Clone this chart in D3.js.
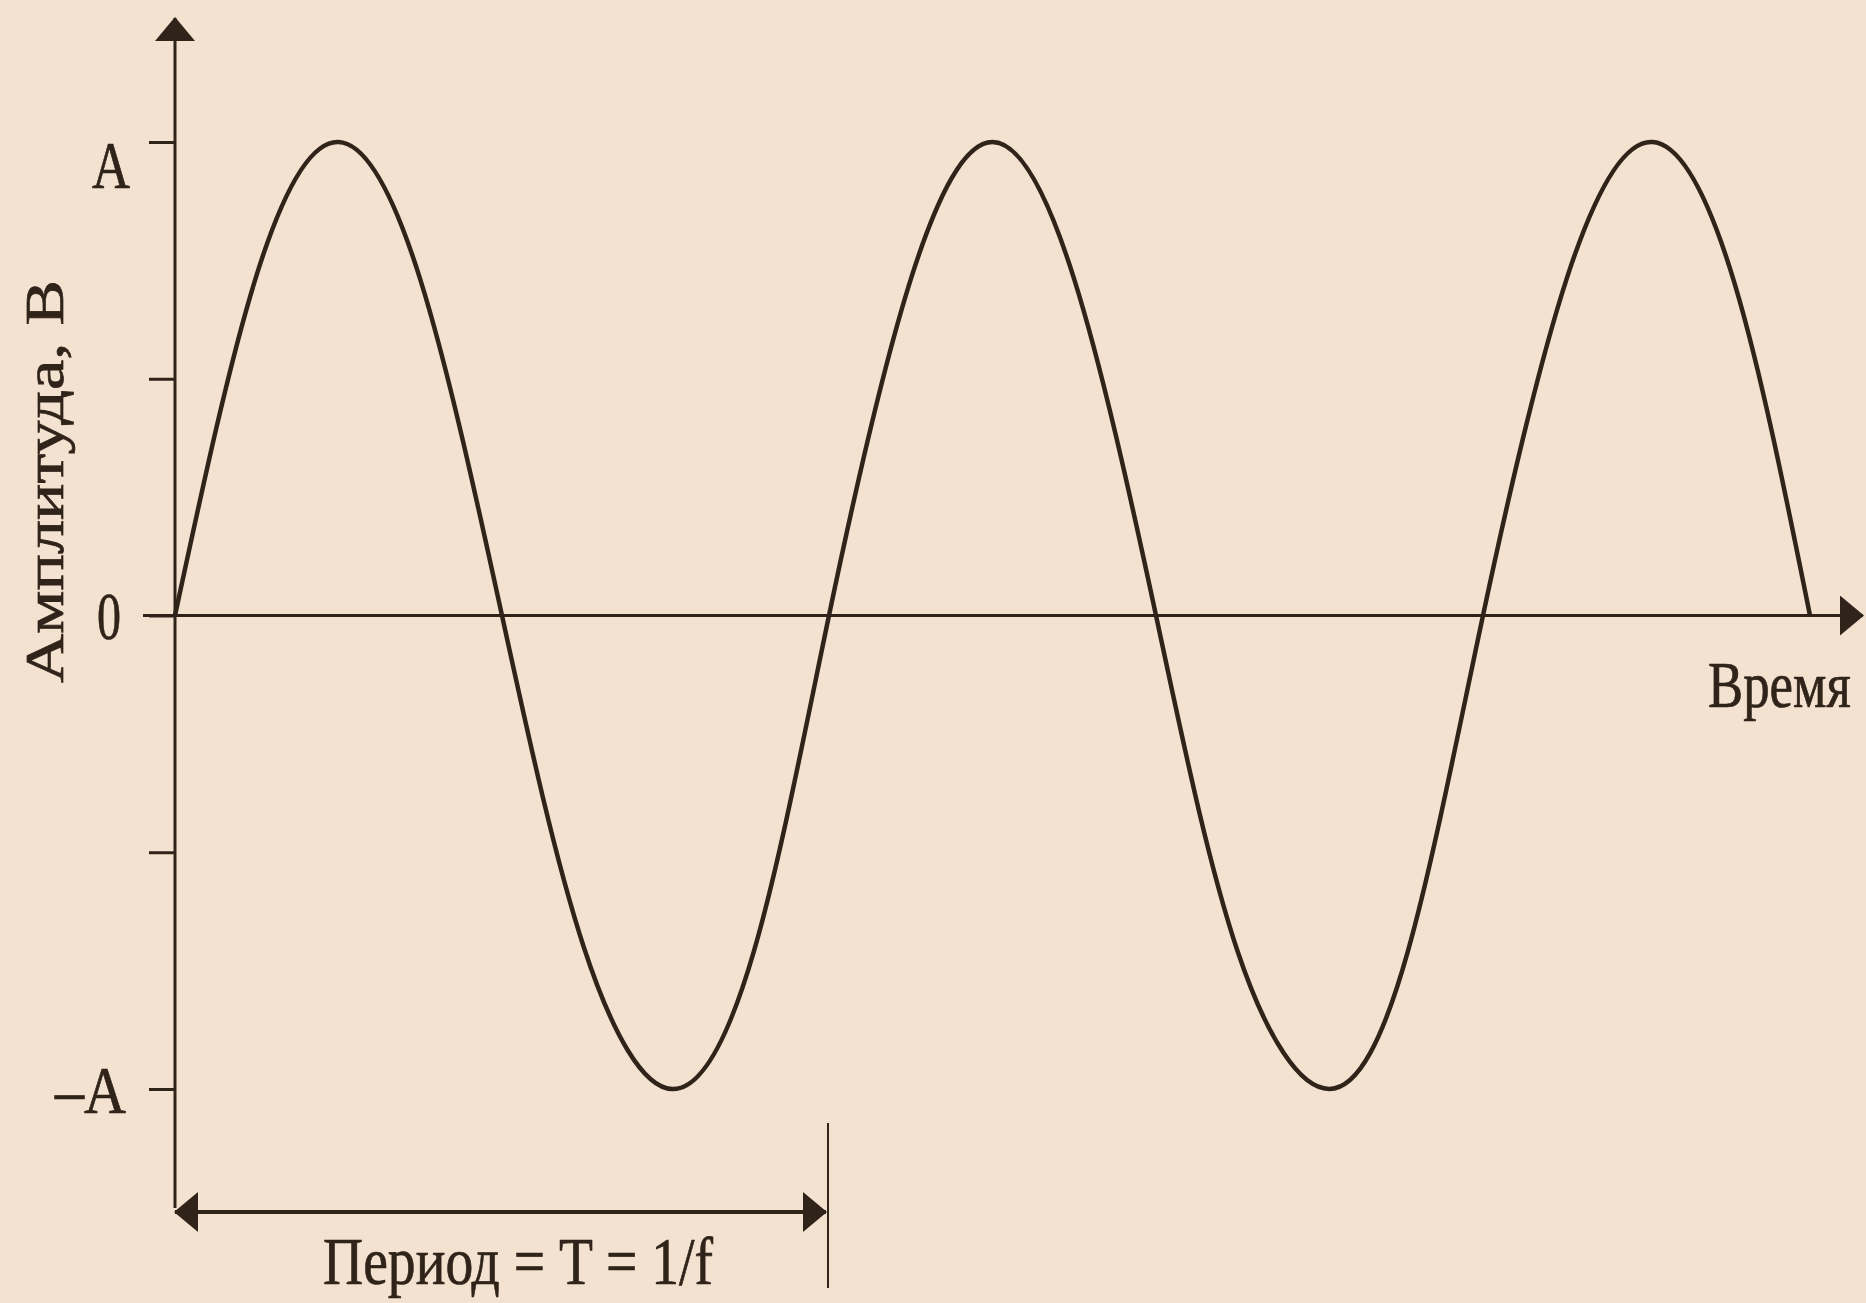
<!DOCTYPE html>
<html>
<head>
<meta charset="utf-8">
<script src="https://cdn.jsdelivr.net/npm/d3@7"></script>
<style>
  html, body { margin: 0; padding: 0; background: #f3e2cf; }
  svg { display: block; }
  text { font-family: "Liberation Serif", "DejaVu Serif", serif; fill: #30231a; stroke: #30231a; stroke-width: 0.7px; }
</style>
</head>
<body>
<svg id="chart" width="1866" height="1303"></svg>
<script>
// Time in periods (T), amplitude in units of A
const timeT     = [0, 0.125, 0.25, 0.375, 0.5, 0.625, 0.76, 0.885, 1.0, 1.125, 1.25, 1.375, 1.5, 1.625, 1.765, 1.885, 2.0, 2.13, 2.26, 2.385, 2.5];
const amplitude = [0, 0.72,  1,    0.71,  0,  -0.70, -1,   -0.71,  0,   0.71,  1,    0.71,  0,  -0.71, -1,    -0.71,  0,   0.72, 1,    0.70,  0];
const yTickValues = [-1, -0.5, 0, 0.5, 1];
const yTickLabels = ["–A", "", "0", "", "A"];
const xLabel = "Время";
const yLabel = "Амплитуда, В";
const periodLabel = "Период = T = 1/f";
const periodLength = [0, 1];

const ink = "#30231a";
const svg = d3.select("#chart");

const x = d3.scaleLinear().domain([0, 2.5]).range([175, 1810]);
const y = d3.scaleLinear().domain([-1, 1]).range([1089, 142]);

// defs: arrowheads
const defs = svg.append("defs");
defs.append("marker")
  .attr("id", "arrow").attr("viewBox", "0 0 24 40").attr("refX", 23).attr("refY", 20)
  .attr("markerWidth", 24).attr("markerHeight", 40).attr("markerUnits", "userSpaceOnUse")
  .attr("orient", "auto-start-reverse")
  .append("path").attr("d", "M0,0 L24,20 L0,40 Z").attr("fill", ink);

// x axis (zero line) with arrow
svg.append("line")
  .attr("x1", 143).attr("x2", 1863)
  .attr("y1", y(0)).attr("y2", y(0))
  .attr("stroke", ink).attr("stroke-width", 3)
  .attr("marker-end", "url(#arrow)");

// y axis with arrow
svg.append("line")
  .attr("x1", x(0)).attr("x2", x(0))
  .attr("y1", 1208).attr("y2", 18)
  .attr("stroke", ink).attr("stroke-width", 3)
  .attr("marker-end", "url(#arrow)");

// y ticks via d3 axis
const yAxis = d3.axisLeft(y).tickValues(yTickValues).tickSize(26).tickFormat("");
const gy = svg.append("g").attr("transform", `translate(${x(0)},0)`).call(yAxis);
gy.select(".domain").remove();
gy.selectAll(".tick line").attr("stroke", ink).attr("stroke-width", 3);

// tick labels
const labelInfo = { "A": { x0: 92, w: 38, dy: 46 }, "0": { x0: 97, w: 24, dy: 23 }, "–A": { x0: 55, w: 71, dy: 24 } };
yTickValues.forEach((v, i) => {
  const t = yTickLabels[i];
  if (!t) return;
  const info = labelInfo[t];
  svg.append("text")
    .attr("x", info.x0).attr("y", y(v) + info.dy)
    .attr("font-size", 68)
    .attr("textLength", info.w).attr("lengthAdjust", "spacingAndGlyphs")
    .text(t);
});

// sine curve
const pts = timeT.map((t, i) => [t, amplitude[i]]);
svg.append("path")
  .datum(pts)
  .attr("fill", "none").attr("stroke", ink).attr("stroke-width", 4.5)
  .attr("stroke-linejoin", "round")
  .attr("d", d3.line().x(d => x(d[0])).y(d => y(d[1])).curve(d3.curveNatural));

// x axis label (horizontally condensed via transform)
svg.append("text")
  .attr("transform", "translate(1708,707) scale(0.8,1)")
  .attr("x", 0).attr("y", 0)
  .attr("font-size", 66)
  .text(xLabel);

// y axis label (rotated)
svg.append("text")
  .attr("transform", "translate(63,683) rotate(-90)")
  .attr("x", 0).attr("y", 0)
  .attr("font-size", 54)
  .attr("textLength", 403).attr("lengthAdjust", "spacingAndGlyphs")
  .text(yLabel);

// period marker
svg.append("line")
  .attr("x1", x(periodLength[1]) - 1).attr("x2", x(periodLength[1]) - 1)
  .attr("y1", 1123).attr("y2", 1288)
  .attr("stroke", ink).attr("stroke-width", 2);

svg.append("line")
  .attr("x1", x(periodLength[0])).attr("x2", x(periodLength[1]) - 3)
  .attr("y1", 1212).attr("y2", 1212)
  .attr("stroke", ink).attr("stroke-width", 4)
  .attr("marker-start", "url(#arrow)")
  .attr("marker-end", "url(#arrow)");

svg.append("text")
  .attr("x", 323).attr("y", 1284)
  .attr("font-size", 68)
  .attr("textLength", 390).attr("lengthAdjust", "spacingAndGlyphs")
  .text(periodLabel);
</script>
</body>
</html>
